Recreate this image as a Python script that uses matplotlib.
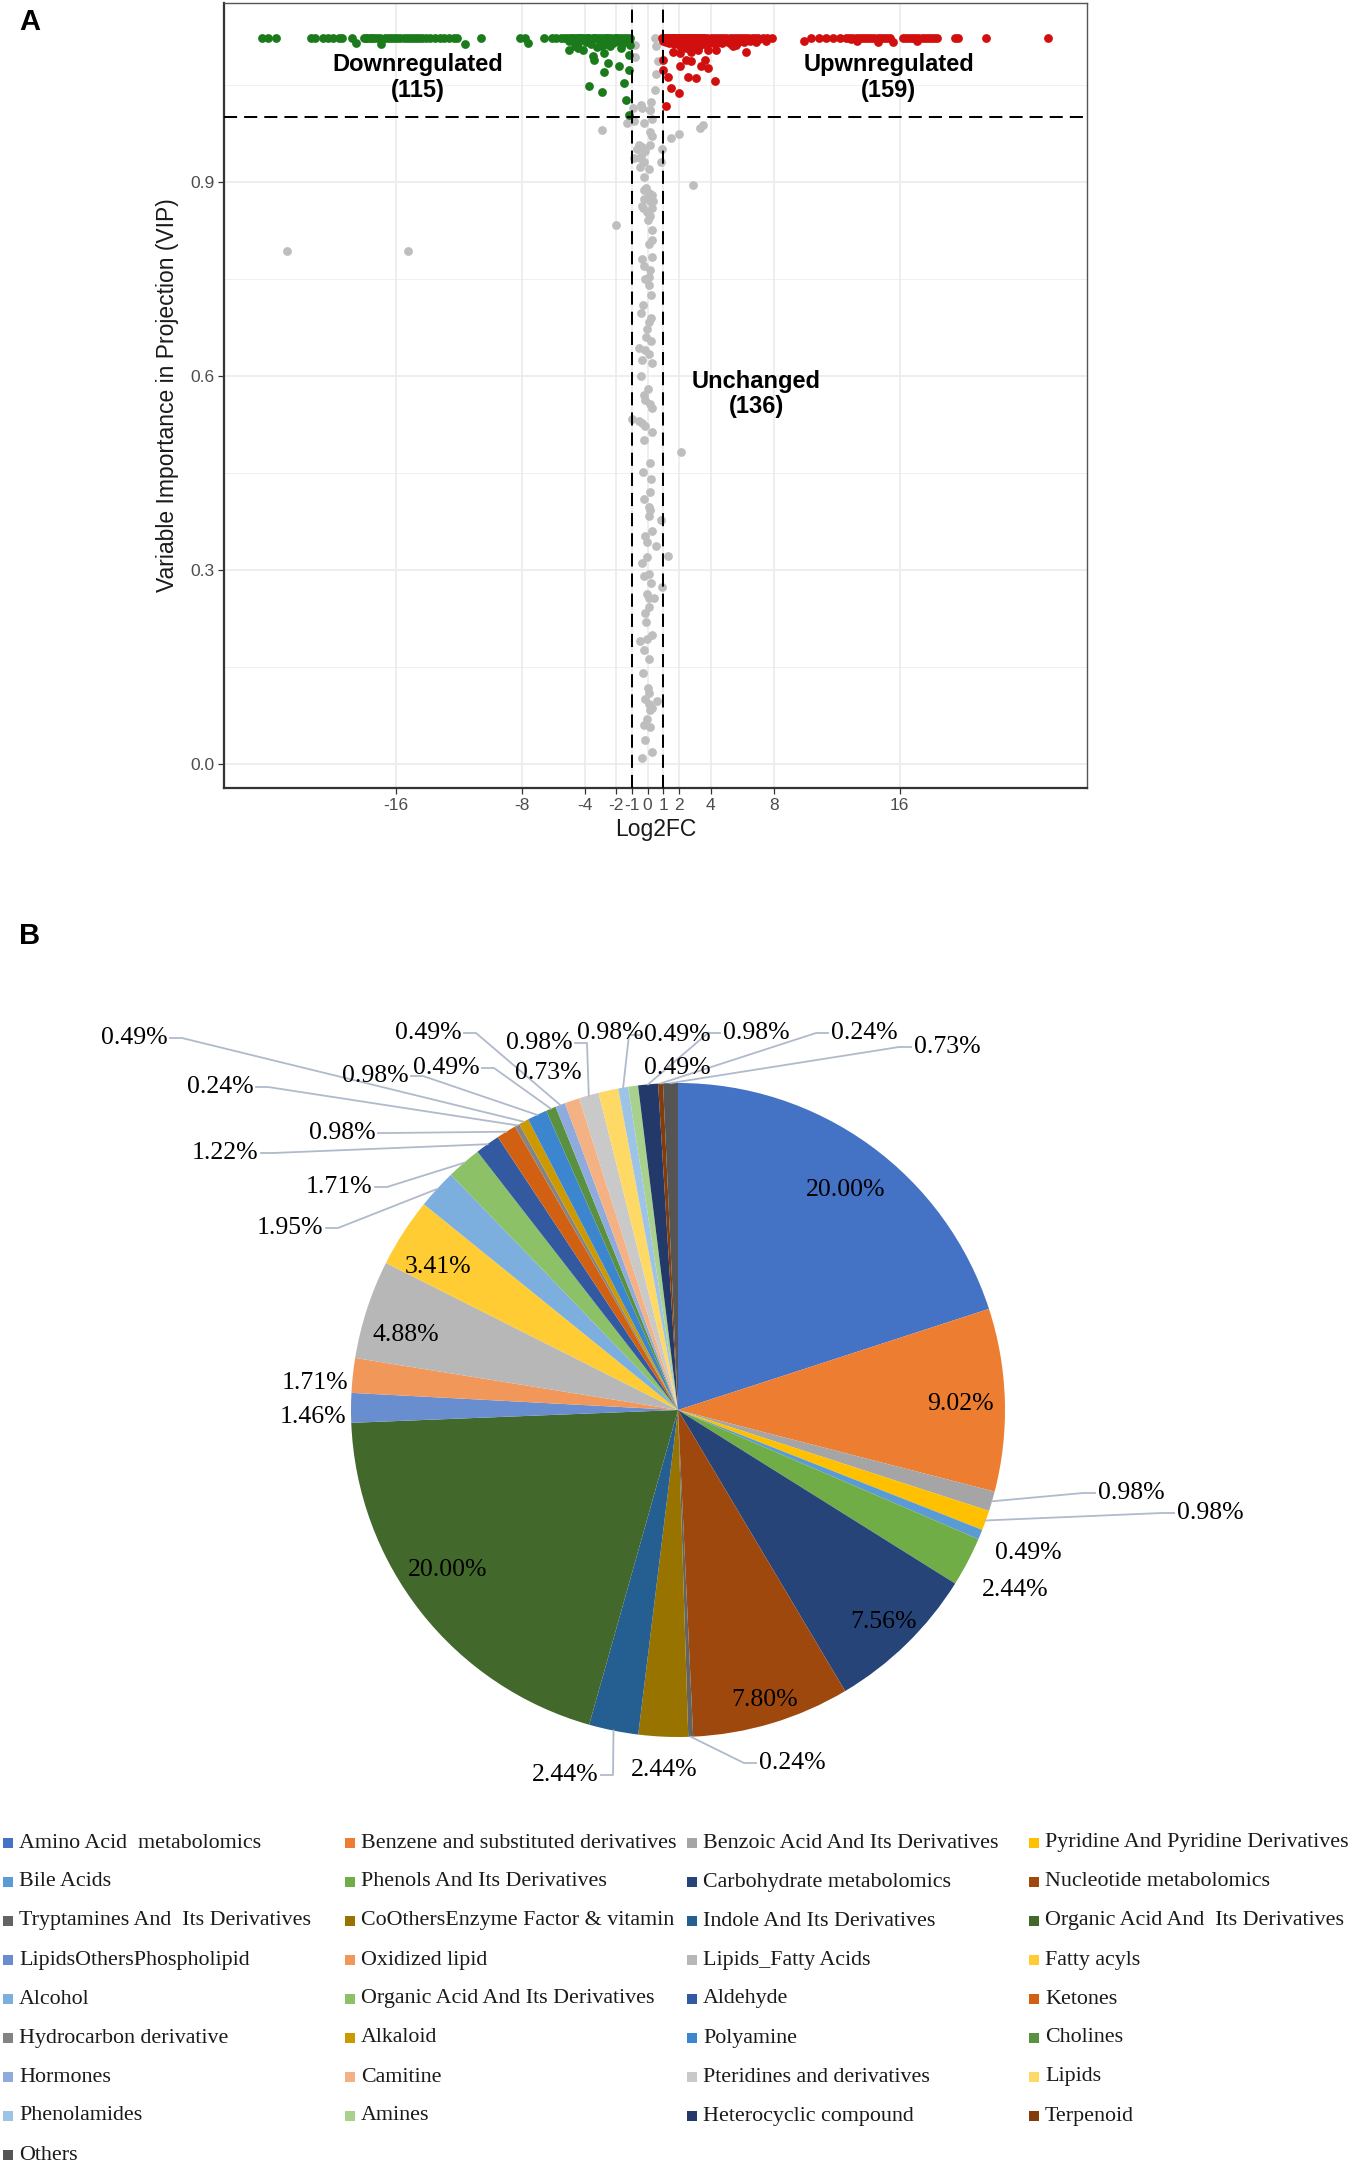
import numpy as np
import matplotlib.pyplot as plt
from matplotlib.patches import Rectangle

W, H = 1355, 2165

# ---------------- panel A : VIP against log2 fold change ----------------
down_points = [
    (-24.5, 1.122), (-24.1, 1.122), (-23.6, 1.122), (-21.4, 1.122), (-21.1, 1.122),
    (-20.6, 1.122), (-20.3, 1.122), (-20.0, 1.122), (-19.6, 1.122), (-19.4, 1.122),
    (-18.8, 1.122), (-18.0, 1.122), (-17.9, 1.122), (-17.8, 1.122), (-17.6, 1.122),
    (-17.5, 1.122), (-17.4, 1.122), (-17.2, 1.122), (-17.0, 1.122), (-16.7, 1.122),
    (-16.5, 1.122), (-16.3, 1.122), (-16.1, 1.122), (-15.9, 1.122), (-15.7, 1.122),
    (-15.5, 1.122), (-15.3, 1.122), (-15.1, 1.122), (-14.9, 1.122), (-14.7, 1.122),
    (-14.5, 1.122), (-14.3, 1.122), (-14.1, 1.122), (-13.8, 1.122), (-13.5, 1.122),
    (-13.2, 1.122), (-12.9, 1.122), (-12.6, 1.122), (-12.3, 1.122), (-12.1, 1.122),
    (-10.6, 1.122), (-8.1, 1.122), (-7.8, 1.122), (-6.6, 1.122), (-6.1, 1.122),
    (-5.8, 1.122), (-5.5, 1.122), (-5.3, 1.122), (-5.1, 1.122), (-4.9, 1.122),
    (-4.8, 1.122), (-4.7, 1.122), (-4.5, 1.122), (-4.4, 1.122), (-4.3, 1.122),
    (-4.2, 1.122), (-4.1, 1.122), (-3.9, 1.122), (-3.8, 1.122), (-3.7, 1.122),
    (-3.5, 1.122), (-3.4, 1.122), (-3.3, 1.122), (-3.1, 1.122), (-2.9, 1.122),
    (-2.7, 1.122), (-2.6, 1.122), (-2.5, 1.122), (-2.3, 1.122), (-2.1, 1.122),
    (-2.0, 1.122), (-1.9, 1.122), (-1.7, 1.122), (-1.5, 1.122), (-1.3, 1.122),
    (-1.15, 1.122),
    (-18.5, 1.114), (-16.9, 1.113), (-11.6, 1.112), (-7.6, 1.114), (-4.6, 1.110),
    (-3.6, 1.112), (-2.8, 1.116), (-2.4, 1.110), (-2.0, 1.118), (-1.6, 1.112),
    (-1.2, 1.116), (-3.0, 1.118), (-2.2, 1.114), (-1.8, 1.116), (-1.4, 1.120),
    (-1.7, 1.106), (-3.9, 1.116), (-4.4, 1.114), (-5.0, 1.118), (-2.9, 1.110),
    (-3.2, 1.108), (-2.6, 1.112),
    (-5.0, 1.104), (-4.4, 1.107), (-4.1, 1.104), (-3.5, 1.094), (-3.4, 1.088),
    (-2.8, 1.099), (-2.5, 1.083), (-1.8, 1.078), (-2.8, 1.070), (-1.2, 1.073),
    (-3.75, 1.047), (-2.9, 1.039), (-1.5, 1.052), (-1.4, 1.026), (-1.2, 1.096),
    (-1.1, 1.111), (-1.17, 1.003),
]

up_points = [
    (0.9, 1.122), (1.0, 1.122), (1.1, 1.122), (1.2, 1.122), (1.3, 1.122), (1.4, 1.122),
    (1.5, 1.122), (1.6, 1.122), (1.7, 1.122), (1.8, 1.122), (1.9, 1.122), (2.0, 1.122),
    (2.1, 1.122), (2.2, 1.122), (2.3, 1.122), (2.4, 1.122), (2.5, 1.122), (2.6, 1.122),
    (2.7, 1.122), (2.8, 1.122), (2.9, 1.122), (3.0, 1.122), (3.1, 1.122), (3.2, 1.122),
    (3.3, 1.122), (3.4, 1.122), (3.5, 1.122), (3.6, 1.122), (3.8, 1.122), (4.0, 1.122),
    (4.2, 1.122), (4.4, 1.122), (4.6, 1.122), (4.8, 1.122), (5.0, 1.122), (5.2, 1.122),
    (5.4, 1.122), (5.6, 1.122), (5.8, 1.122), (6.0, 1.122), (6.2, 1.122), (6.4, 1.122),
    (6.6, 1.122), (6.8, 1.122), (7.0, 1.122), (7.3, 1.122), (7.6, 1.122), (7.9, 1.122),
    (9.9, 1.118), (10.4, 1.122), (10.9, 1.122), (11.3, 1.122), (11.8, 1.122), (12.2, 1.122),
    (12.6, 1.122), (12.8, 1.122), (13.0, 1.122), (13.2, 1.122), (13.4, 1.122), (13.6, 1.122),
    (13.8, 1.122), (14.0, 1.122), (14.2, 1.122), (14.4, 1.122), (14.6, 1.122), (14.8, 1.122),
    (15.0, 1.122), (15.2, 1.122), (15.4, 1.122), (15.6, 1.116), (16.2, 1.122), (16.4, 1.122),
    (16.6, 1.122), (16.8, 1.122), (17.0, 1.122), (17.2, 1.122), (17.4, 1.122), (17.6, 1.122),
    (17.8, 1.122), (18.0, 1.122), (18.2, 1.122), (18.4, 1.122), (19.5, 1.122), (19.7, 1.122),
    (21.5, 1.122), (25.4, 1.122),
    (1.61, 1.101), (2.03, 1.099), (2.77, 1.101), (2.46, 1.088), (2.77, 1.086), (3.20, 1.104),
    (3.62, 1.088), (3.83, 1.104), (4.36, 1.104), (5.42, 1.109), (6.27, 1.101), (2.03, 1.078),
    (3.41, 1.078), (3.83, 1.075), (0.97, 1.073), (1.29, 1.062), (2.56, 1.062), (3.09, 1.060),
    (4.25, 1.055), (1.50, 1.044), (1.99, 1.037), (1.14, 1.017), (3.51, 1.114), (4.57, 1.116),
    (5.63, 1.111), (0.97, 1.088),
    (0.95, 1.118), (1.05, 1.120), (1.15, 1.116), (1.25, 1.118), (1.35, 1.114), (1.45, 1.120),
    (1.55, 1.116), (1.65, 1.112), (1.75, 1.118), (1.85, 1.114), (1.95, 1.120), (2.05, 1.110),
    (2.15, 1.116), (2.25, 1.112), (2.35, 1.118), (2.45, 1.106), (2.55, 1.114), (2.65, 1.118),
    (2.75, 1.110), (2.85, 1.116), (2.95, 1.112), (3.05, 1.118), (3.15, 1.114), (3.25, 1.110),
    (3.45, 1.116), (3.55, 1.112), (3.7, 1.118), (3.9, 1.114), (4.1, 1.118), (4.3, 1.112),
    (4.5, 1.118), (4.7, 1.114), (4.9, 1.120), (5.1, 1.116), (5.3, 1.112), (5.5, 1.118),
    (5.7, 1.114), (5.9, 1.118), (6.1, 1.116), (6.5, 1.118), (6.9, 1.116), (7.1, 1.120),
    (7.5, 1.118), (13.3, 1.118), (14.6, 1.116), (17.1, 1.118), (12.9, 1.120),
]

same_points = [
    (-2.87, 0.980), (-0.89, 0.993), (-0.35, 1.013), (0.18, 1.010), (0.29, 0.997),
    (-0.25, 0.990), (-1.32, 0.990), (0.18, 0.977), (0.29, 0.970), (1.47, 0.967),
    (2.01, 0.973), (3.30, 0.983), (3.52, 0.987), (-0.57, 0.957), (-0.35, 0.953),
    (-0.68, 0.950), (-0.14, 0.947), (0.18, 0.957), (-0.89, 0.937), (-0.46, 0.937),
    (-0.25, 0.930), (0.94, 0.950), (0.83, 0.930), (-0.46, 0.923), (-0.25, 0.907),
    (2.87, 0.895), (-0.25, 0.887), (0.08, 0.883), (0.29, 0.880), (-0.25, 0.873),
    (0.18, 0.870), (-0.35, 0.863), (0.29, 0.860), (-0.03, 0.853), (0.18, 0.847),
    (-2.01, 0.833), (0.25, 0.825), (0.08, 0.803), (-0.35, 0.780), (0.29, 0.783),
    (0.18, 0.763), (-0.14, 0.750), (0.08, 0.753), (0.23, 0.725), (-0.42, 0.697),
    (0.08, 0.683), (-0.03, 0.673), (0.23, 0.653), (-0.57, 0.643), (-0.14, 0.640),
    (0.08, 0.633), (-0.35, 0.625), (-0.25, 0.570), (-0.14, 0.563), (0.14, 0.557),
    (-1.00, 0.533), (-0.57, 0.530), (-0.35, 0.527), (-0.14, 0.523), (0.29, 0.513),
    (2.12, 0.482), (0.12, 0.465), (-0.31, 0.451), (0.14, 0.421), (0.08, 0.397),
    (0.18, 0.393), (0.08, 0.383), (0.83, 0.377), (-0.14, 0.353), (-0.03, 0.343),
    (0.51, 0.337), (-0.03, 0.320), (1.30, 0.322), (-0.25, 0.290), (0.08, 0.293),
    (0.94, 0.273), (-0.03, 0.263), (0.08, 0.257), (0.40, 0.257), (0.08, 0.243),
    (-0.14, 0.233), (-0.46, 0.190), (-0.03, 0.193), (-0.25, 0.177), (0.08, 0.163),
    (0.01, 0.117), (-0.14, 0.100), (0.08, 0.093), (0.61, 0.097), (0.18, 0.083),
    (0.29, 0.087), (-0.03, 0.070), (0.14, 0.057), (-0.14, 0.037), (0.29, 0.019),
    (-0.35, 0.010),
    (-22.9, 0.793), (-15.2, 0.793),
    (-0.82, 1.111), (0.44, 1.122), (0.55, 1.109), (0.66, 1.086), (0.55, 1.067),
    (0.44, 1.041), (0.23, 1.023), (-0.40, 1.018), (0.13, 1.010), (-0.93, 1.013),
    (-0.82, 1.093),
    (-0.40, 0.940), (0.10, 0.920), (-0.10, 0.890), (0.35, 0.870), (-0.30, 0.860),
    (0.05, 0.840), (0.30, 0.810), (-0.20, 0.770), (0.10, 0.740), (-0.30, 0.710),
    (0.20, 0.690), (-0.10, 0.660), (0.30, 0.620), (-0.45, 0.600), (0.00, 0.580),
    (0.30, 0.550), (-0.25, 0.500), (0.20, 0.440), (-0.20, 0.410), (0.30, 0.360),
    (-0.35, 0.310), (0.20, 0.280), (-0.10, 0.220), (0.25, 0.200), (-0.30, 0.140),
    (0.10, 0.110), (-0.20, 0.060),
]

fc_cut = 1
vip_cut = 1.0
x_ticks = [-16, -8, -4, -2, -1, 0, 1, 2, 4, 8, 16]
y_ticks = [0.0, 0.3, 0.6, 0.9]
y_minor = [0.15, 0.45, 0.75, 1.05]

# ---------------- panel B : class composition ----------------
classes = [
    'Amino Acid  metabolomics', 'Benzene and substituted derivatives',
    'Benzoic Acid And Its Derivatives', 'Pyridine And Pyridine Derivatives',
    'Bile Acids', 'Phenols And Its Derivatives', 'Carbohydrate metabolomics',
    'Nucleotide metabolomics', 'Tryptamines And  Its Derivatives',
    'CoOthersEnzyme Factor & vitamin', 'Indole And Its Derivatives',
    'Organic Acid And  Its Derivatives', 'LipidsOthersPhospholipid', 'Oxidized lipid',
    'Lipids_Fatty Acids', 'Fatty acyls', 'Alcohol', 'Organic Acid And Its Derivatives',
    'Aldehyde', 'Ketones', 'Hydrocarbon derivative', 'Alkaloid', 'Polyamine',
    'Cholines', 'Hormones', 'Camitine', 'Pteridines and derivatives', 'Lipids',
    'Phenolamides', 'Amines', 'Heterocyclic compound', 'Terpenoid', 'Others',
]
shares = [20.00, 9.02, 0.98, 0.98, 0.49, 2.44, 7.56, 7.80, 0.24, 2.44, 2.44,
          20.00, 1.46, 1.71, 4.88, 3.41, 1.95, 1.71, 1.22, 0.98, 0.24, 0.49,
          0.98, 0.49, 0.49, 0.73, 0.98, 0.98, 0.49, 0.49, 0.98, 0.24, 0.73]
colors = ['#4472C4', '#ED7D31', '#A5A5A5', '#FFC000', '#5B9BD5', '#70AD47',
          '#264478', '#9E480E', '#636363', '#997300', '#255E91', '#43682B',
          '#698ED0', '#F1975A', '#B7B7B7', '#FFCD33', '#7CAFDD', '#8CC168',
          '#335AA1', '#D26012', '#848484', '#CC9A00', '#3C86D0', '#5A9140',
          '#8FAADC', '#F4B183', '#C9C9C9', '#FFD966', '#9DC3E6', '#A9D18E',
          '#22396A', '#843C0C', '#555555']

# where each percentage sits on the page (pixels from the top-left corner)
label_xy = [(846, 1190), (960, 1404), (1131, 1493), (1210, 1513), (1028, 1553),
            (1015, 1590), (884, 1622), (765, 1700), (792, 1763), (664, 1770),
            (565, 1775), (448, 1570), (313, 1417), (315, 1383), (406, 1335),
            (438, 1267), (290, 1228), (339, 1187), (225, 1153), (342, 1133),
            (220, 1087), (134, 1038), (375, 1076), (446, 1068), (428, 1033),
            (548, 1073), (539, 1043), (610, 1033), (677, 1035), (677, 1068),
            (756, 1033), (864, 1033), (947, 1047)]
inside = {0, 1, 6, 7, 11, 14, 15}

sans = ['Liberation Sans', 'DejaVu Sans']
serif = ['Liberation Serif', 'DejaVu Serif']

fig = plt.figure(figsize=(W / 100, H / 100), dpi=100)
fig.patch.set_facecolor('white')

# ---- A ----
ax = fig.add_axes([224 / W, 1 - 788 / H, (1087 - 224) / W, (788 - 3) / H])
ax.set_xlim(-26.9, 27.9)
ax.set_ylim(-0.037, 1.176)

for yv in y_minor:
    ax.axhline(yv, color='#F0F0F0', lw=0.7, zorder=0)
for yv in y_ticks:
    ax.axhline(yv, color='#EBEBEB', lw=1.2, zorder=0)
for xv in x_ticks:
    ax.axvline(xv, color='#EBEBEB', lw=1.2, zorder=0)

gx, gy = zip(*same_points)
ax.scatter(gx, gy, s=40, color='#BEBEBE', linewidths=0, zorder=2)
dx, dy = zip(*down_points)
ax.scatter(dx, dy, s=40, color='#1B7B1B', linewidths=0, zorder=3)
ux, uy = zip(*up_points)
ax.scatter(ux, uy, s=40, color='#D10F0F', linewidths=0, zorder=3)

dash = (0, (6.5, 3.5))
ax.axvline(-fc_cut, color='black', lw=1.45, linestyle=dash, zorder=4)
ax.axvline(fc_cut, color='black', lw=1.45, linestyle=dash, zorder=4)
ax.axhline(vip_cut, color='black', lw=1.45, linestyle=dash, zorder=4)

ax.text(-14.6, 1.061, 'Downregulated\n(115)', ha='center', va='center',
        fontsize=17, fontweight='bold', family=sans, linespacing=1.15)
ax.text(15.3, 1.061, 'Upwnregulated\n(159)', ha='center', va='center',
        fontsize=17, fontweight='bold', family=sans, linespacing=1.15)
ax.text(6.9, 0.572, 'Unchanged\n(136)', ha='center', va='center',
        fontsize=17, fontweight='bold', family=sans, linespacing=1.15)

ax.set_xticks(x_ticks)
ax.set_xticklabels([str(t) for t in x_ticks])
ax.set_yticks(y_ticks)
ax.set_yticklabels([f'{t:.1f}' for t in y_ticks])
ax.tick_params(length=4, width=0.9, color='#333333', labelcolor='#4D4D4D',
               labelsize=12.5, pad=3)
for t in ax.get_xticklabels() + ax.get_yticklabels():
    t.set_family(sans)
ax.set_xlabel('Log2FC', fontsize=16.5, family=sans, color='#1A1A1A', labelpad=4)
ax.set_ylabel('Variable Importance in Projection (VIP)', fontsize=16.5,
              family=sans, color='#1A1A1A', labelpad=8)
for side in ['top', 'right']:
    ax.spines[side].set_color('#555555')
    ax.spines[side].set_linewidth(1.0)
for side in ['left', 'bottom']:
    ax.spines[side].set_color('#333333')
    ax.spines[side].set_linewidth(1.6)

fig.text(19 / W, 1 - 8 / H, 'A', fontsize=21, fontweight='bold', family=sans,
         va='top', ha='left')
fig.text(19 / W, 1 - 922 / H, 'B', fontsize=21, fontweight='bold', family=sans,
         va='top', ha='left')

# ---- B (pixel coordinates, y measured upward) ----
axb = fig.add_axes([0, 0, 1, 1])
cx, cy, R = 678, 1410, 327
axb.pie(shares, colors=colors, startangle=90, counterclock=False, radius=R,
        center=(cx, H - cy), wedgeprops=dict(linewidth=0), frame=True)
axb.set_xlim(0, W)
axb.set_ylim(0, H)
axb.axis('off')

total = sum(shares)
cum = 0.0
for i, s in enumerate(shares):
    a = np.deg2rad(360 * (cum + s / 2) / total)
    cum += s
    wx, wy = cx + R * np.sin(a), cy - R * np.cos(a)
    lx, ly = label_xy[i]
    axb.text(lx, H - ly, f'{s:.2f}%', ha='center', va='center',
             fontsize=18.5, family=serif, color='black', zorder=5)
    if i in inside or np.hypot(lx - wx, ly - wy) < 61:
        continue
    if abs(lx - wx) < 34:
        pts = [(wx, ly + 13), (wx, wy)]
    elif lx < wx:
        pts = [(lx + 36, ly), (lx + 48, ly), (wx, wy)]
    else:
        pts = [(lx - 36, ly), (lx - 48, ly), (wx, wy)]
    px, py = zip(*pts)
    axb.plot(px, [H - v for v in py], color='#AFBACB', lw=1.3, zorder=4)

# legend grid, four columns
for i, name in enumerate(classes):
    r, c = divmod(i, 4)
    x0 = 3 + 342 * c
    y0 = 1843 + 39 * r
    axb.add_patch(Rectangle((x0, H - y0 - 5), 10, 10, color=colors[i], lw=0))
    axb.text(x0 + 16, H - y0, name, ha='left', va='center', fontsize=15.8,
             family=serif, color='#1A1A1A')

fig.savefig('out.png', dpi=100, facecolor='white')
